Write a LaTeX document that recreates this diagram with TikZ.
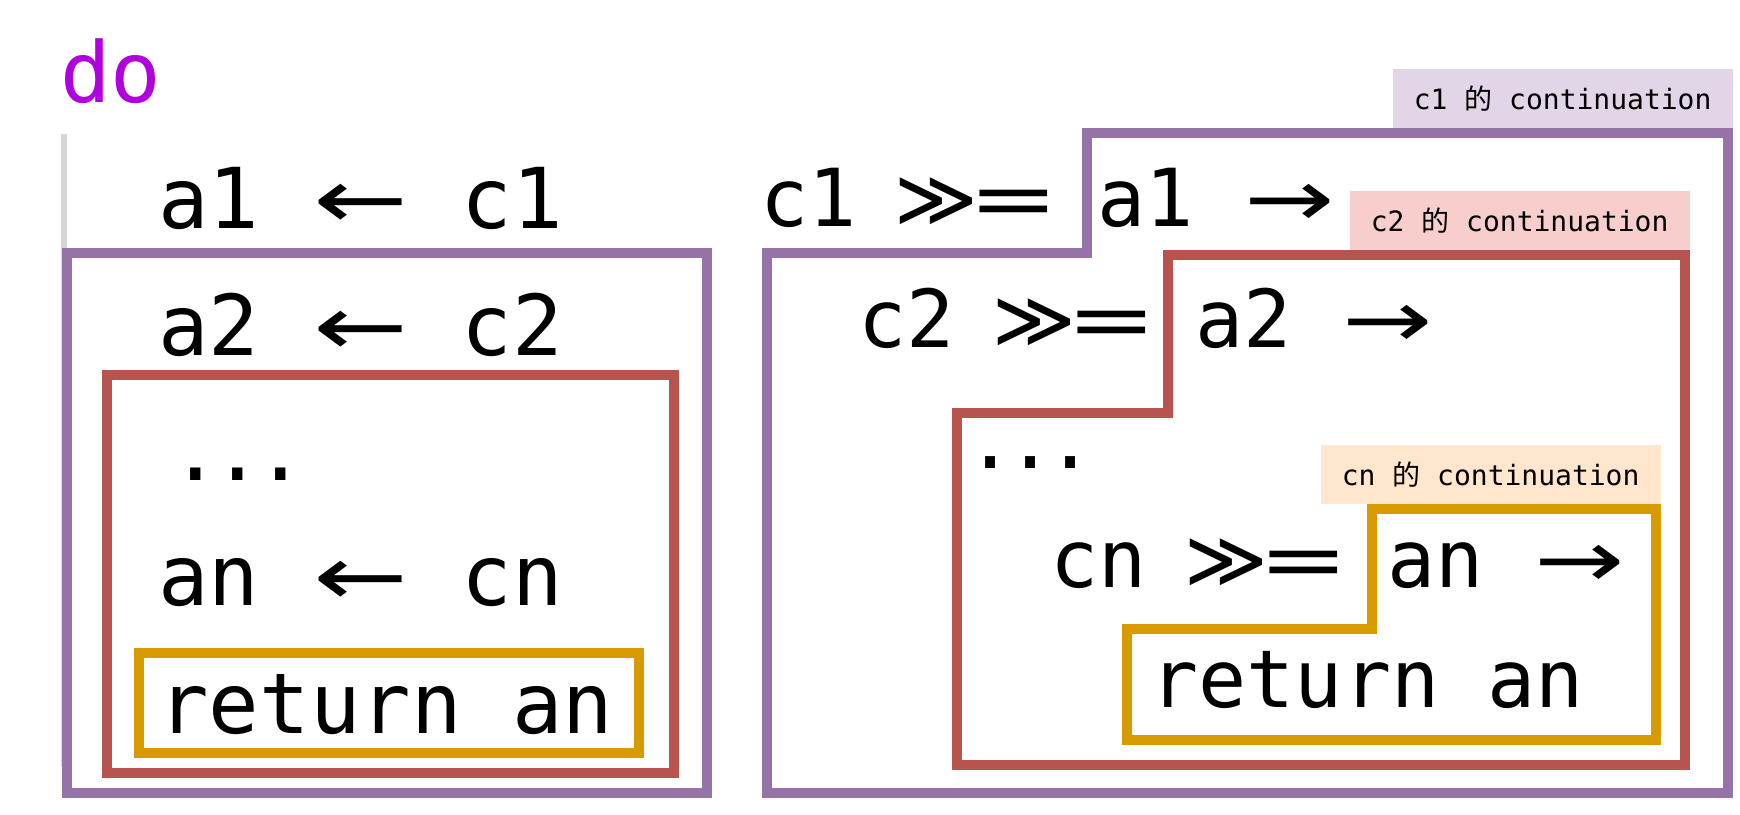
\documentclass[tikz,border=0pt]{standalone}
\usepackage{fontspec}
\usepackage{graphicx}
\usepackage{xcolor}
\usepackage{tikz}
\usetikzlibrary{positioning}
\setmonofont{DejaVu Sans Mono}
\newfontfamily\arrowfont{DejaVu Sans}
\newfontfamily\cjk{Noto Sans CJK SC}

\definecolor{doPurple}{HTML}{B000E0}
\definecolor{cOneLine}{HTML}{9673A6}
\definecolor{cOneFill}{HTML}{E1D5E7}
\definecolor{cTwoLine}{HTML}{B85450}
\definecolor{cTwoFill}{HTML}{F8CECC}
\definecolor{cNLine}{HTML}{D79B00}
\definecolor{cNFill}{HTML}{FFE6CC}
\definecolor{guide}{HTML}{D6D6D6}

\newcommand{\larr}{\makebox[1.204em]{\arrowfont\scalebox{1.35}[1]{←}}}
\newcommand{\rarr}{\makebox[1.204em]{\arrowfont\scalebox{1.35}[1]{→}}}
\newcommand{\bindop}{\makebox[1.806em]{\arrowfont ≫\kern-0.12em\scalebox{1.35}[1]{=}}}

\begin{document}
\begin{tikzpicture}[x=0.5pt, y=-0.5pt,
		codeL/.style={anchor=base west, inner sep=0pt, font=\ttfamily\fontsize{42}{50}\selectfont},
		codeR/.style={anchor=base west, inner sep=0pt, font=\ttfamily\fontsize{40}{48}\selectfont},
		tag/.style={anchor=south east, inner sep=0pt, minimum width=170pt, minimum height=29.5pt, font=\ttfamily\fontsize{14}{16}\selectfont},
		frame/.style={line width=5pt}]
		\useasboundingbox (0, 0) rectangle (1740, 814);

		\path[draw, line width=3pt, guide] (64, 134) -- (64, 767);

		\path[draw, frame, cOneLine] (67, 253) rectangle (707, 793);
		\path[draw, frame, cTwoLine] (107, 375) rectangle (674, 773);
		\path[draw, frame, cNLine] (139, 653) rectangle (639, 753);

		\path[draw, frame, cOneLine] (767, 793) -- (767, 253) -- (1087, 253) -- (1087, 133) -- (1728, 133) -- (1728, 793) -- cycle;
		\path[draw, frame, cTwoLine] (957, 765) -- (957, 413) -- (1168, 413) -- (1168, 255) -- (1685, 255) -- (1685, 765) -- cycle;
		\path[draw, frame, cNLine] (1127, 740) -- (1127, 629) -- (1372, 629) -- (1372, 509) -- (1656, 509) -- (1656, 740) -- cycle;

		\node[tag, fill=cOneFill] (tagC1) at (1733, 128) {c1 {\cjk 的} continuation};
		\node[tag, fill=cTwoFill] (tagC2) at (1690, 250) {c2 {\cjk 的} continuation};
		\node[tag, fill=cNFill] (tagCn) at (1661, 504) {cn {\cjk 的} continuation};

		\node[codeL, text=doPurple] (doKw) at (60, 102) {do};
		\node[codeL] (lineA1) at (158, 228) {a1 \larr{} c1};
		\node[codeL] (lineA2) at (158, 355) {a2 \larr{} c2};
		\node[codeL] (dotsL) at (170, 480) {.\kern-4pt.\kern-4pt.};
		\node[codeL] (lineAn) at (158, 605) {an \larr{} cn};
		\node[codeL] (retL) at (158, 733) {return an};

		\node[codeR] (bindC1) at (760, 226) {c1 \bindop{} a1 \rarr};
		\node[codeR] (bindC2) at (858, 347) {c2 \bindop{} a2 \rarr};
		\node[codeR] (dotsR) at (966, 468) {.\kern-4pt.\kern-4pt.};
		\node[codeR] (bindCn) at (1050, 587) {cn \bindop{} an \rarr};
		\node[codeR] (retR) at (1150, 707) {return an};
\end{tikzpicture}
\end{document}
